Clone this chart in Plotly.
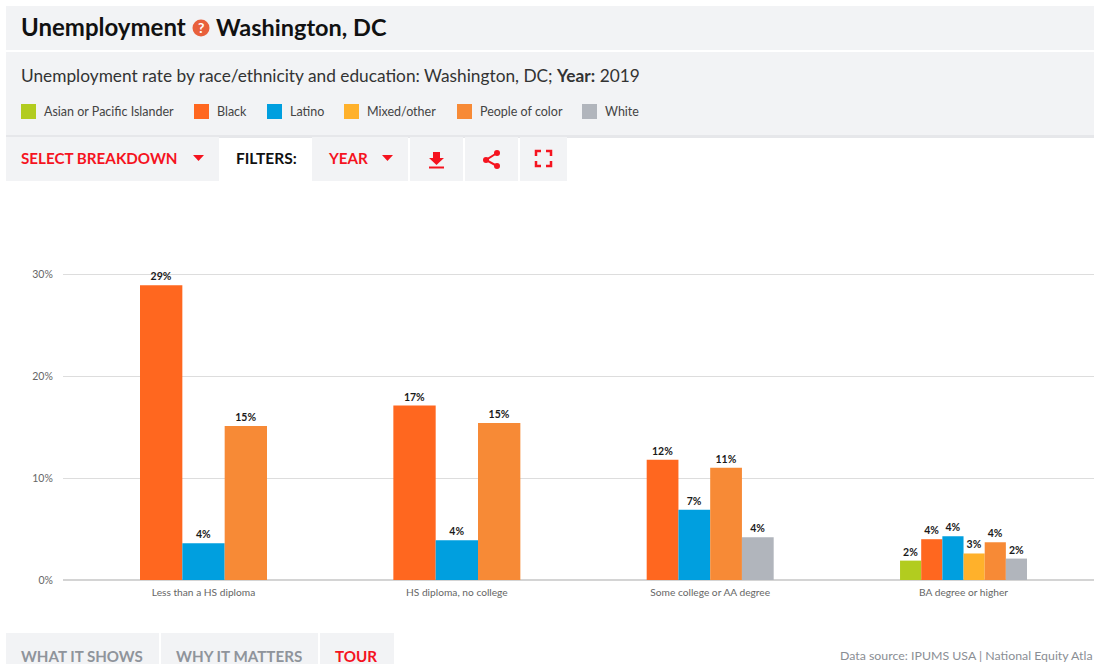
import plotly.graph_objects as go

categories = ["Less than a HS diploma", "HS diploma, no college", "Some college or AA degree", "BA degree or higher"]
series_names = ["Asian or Pacific Islander", "Black", "Latino", "Mixed/other", "People of color", "White"]
asian = [None, None, None, 1.9]
black = [28.9, 17.1, 11.8, 4.0]
latino = [3.6, 3.9, 6.9, 4.3]
mixed = [None, None, None, 2.6]
poc = [15.1, 15.4, 11.0, 3.7]
white = [None, None, 4.2, 2.1]
series_values = [asian, black, latino, mixed, poc, white]
series_colors = ["#b2cc1f", "#ff671f", "#009fdf", "#ffb12b", "#f78a36", "#b1b5bc"]
y_ticks = [0, 10, 20, 30]
y_tick_labels = ["0%", "10%", "20%", "30%"]

W, H = 1094, 664
L, R, T, B = 63, 1094, 190, 580
FONT = "Lato"
PANEL = "#f2f3f5"
RED = "#f5131f"


def px(x):
    return (x - L) / (R - L)


def py(y):
    return (B - y) / (B - T)


def rect(x0, y0, x1, y1, color):
    return dict(type="rect", xref="paper", yref="paper", x0=px(x0), x1=px(x1), y0=py(y0), y1=py(y1),
                fillcolor=color, line=dict(width=0), layer="below")


def path(points, color, closed=True, width=0):
    d = "M" + " L".join(f"{px(a):.5f},{py(b):.5f}" for a, b in points) + (" Z" if closed else "")
    return dict(type="path", xref="paper", yref="paper", path=d,
                fillcolor=color if closed else "rgba(0,0,0,0)",
                line=dict(width=width, color=color), layer="above")


def text(x, y, s, size, color="#222222", anchor="left"):
    return dict(xref="paper", yref="paper", x=px(x), y=py(y), text=s, showarrow=False,
                xanchor=anchor, yanchor="middle", font=dict(family=FONT, size=size, color=color),
                borderpad=0, borderwidth=0, align="left")


# The group's total width is shared by the series present in that category
GROUP = 0.5013
fig = go.Figure()
for i, (name, vals, col) in enumerate(zip(series_names, series_values, series_colors)):
    widths, offsets = [], []
    for c in range(len(categories)):
        present = [s[c] is not None for s in series_values]
        n = sum(present)
        w = GROUP / n
        widths.append(w)
        offsets.append(-GROUP / 2 + sum(present[:i]) * w)
    fig.add_trace(go.Bar(
        x=categories, y=vals, name=name, marker=dict(color=col, line=dict(width=0)),
        width=widths, offset=offsets, texttemplate="%{y:.0f}%", textposition="outside",
        textangle=0, cliponaxis=False, constraintext="none",
        textfont=dict(family=FONT, size=10.5, color="#1a1a1a", weight="bold"), hoverinfo="x+y+name",
    ))

shapes = [
    rect(6, 6, 1094, 50, PANEL),
    rect(6, 52, 1094, 135, PANEL),
    rect(6, 135, 1094, 138, "#e6e7ea"),
    rect(6, 137, 219, 181, PANEL),
    rect(312, 137, 408, 181, PANEL),
    rect(410, 137, 463, 181, PANEL),
    rect(465, 137, 518, 181, PANEL),
    rect(520, 137, 567, 181, PANEL),
    rect(6, 633, 159, 664, PANEL),
    rect(161, 633, 318, 664, PANEL),
    rect(320, 633, 394, 664, PANEL),
    dict(type="circle", xref="paper", yref="paper", x0=px(192.5), x1=px(209.5), y0=py(19.5), y1=py(36.5),
         fillcolor="#e8603c", line=dict(width=0), layer="above"),
    path([(193, 155), (204, 155), (198.5, 161)], RED),
    path([(382, 155), (393, 155), (387.5, 161)], RED),
    # download
    path([(433, 152), (440, 152), (440, 158), (444, 158), (436.5, 165), (429, 158), (433, 158)], RED),
    rect(429, 166.5, 444, 168.5, RED) | {"layer": "above"},
    # share
    path([(497, 153), (486, 160), (497, 166)], RED, closed=False, width=2),
    # fullscreen
    path([(536, 156), (536, 151), (541, 151)], RED, closed=False, width=2.5),
    path([(546, 151), (551, 151), (551, 156)], RED, closed=False, width=2.5),
    path([(551, 161), (551, 166), (546, 166)], RED, closed=False, width=2.5),
    path([(541, 166), (536, 166), (536, 161)], RED, closed=False, width=2.5),
]
for cx, cy in [(497, 153), (486, 160), (497, 166)]:
    shapes.append(dict(type="circle", xref="paper", yref="paper", x0=px(cx - 3), x1=px(cx + 3),
                       y0=py(cy + 3), y1=py(cy - 3), fillcolor=RED, line=dict(width=0), layer="above"))

annotations = [
    text(21, 27, "<b>Unemployment</b>", 24, "#111111"),
    text(201, 28, "<b>?</b>", 14, "#ffffff", "center"),
    text(216, 27, "<b>Washington, DC</b>", 23.5, "#111111"),
    text(21, 76, "Unemployment rate by race/ethnicity and education: Washington, DC; <b>Year:</b> 2019", 17.3, "#333333"),
    text(21, 158, "<b>SELECT BREAKDOWN</b>", 15.2, RED),
    text(236, 158, "<b>FILTERS:</b>", 15.5, "#111111"),
    text(328, 158, "<b>YEAR</b>", 15.2, RED),
    text(21, 656, "<b>WHAT IT SHOWS</b>", 15.1, "#8f949b"),
    text(176, 656, "<b>WHY IT MATTERS</b>", 15.2, "#8f949b"),
    text(335, 656, "<b>TOUR</b>", 15.2, RED),
    text(840, 655, "Data source: IPUMS USA | National Equity Atla", 12.35, "#8a8e94"),
]

# Legend row
legend_x = [21, 194, 267, 344, 457, 582]
for x, name, col in zip(legend_x, series_names, series_colors):
    shapes.append(rect(x, 104, x + 15, 119, col))
    annotations.append(text(x + 23, 111, name, 12.5, "#444444"))

fig.update_layout(
    width=W, height=H, autosize=False,
    margin=dict(l=L, r=W - R, t=T, b=H - B, pad=0),
    paper_bgcolor="white", plot_bgcolor="white",
    barmode="overlay", showlegend=False, shapes=shapes, annotations=annotations,
    font=dict(family=FONT),
    xaxis=dict(type="category", categoryorder="array", categoryarray=categories, range=[-0.5546, 3.515],
               showgrid=False, showline=False, zeroline=False, ticks="outside", ticklen=3,
               tickcolor="rgba(0,0,0,0)", tickfont=dict(family=FONT, size=10.2, color="#666666")),
    yaxis=dict(range=[0, 38.24], tickmode="array", tickvals=y_ticks, ticktext=y_tick_labels,
               showgrid=True, gridcolor="#dddddd", gridwidth=1, showline=False, zeroline=True,
               zerolinecolor="#d4d4d4", zerolinewidth=2, ticks="outside", ticklen=7,
               tickcolor="rgba(0,0,0,0)", tickfont=dict(family=FONT, size=10.5, color="#666666")),
)

fig.write_html("out.html", config=dict(displayModeBar=False),
               post_script="document.body.style.margin='0';document.body.style.overflow='hidden';")
